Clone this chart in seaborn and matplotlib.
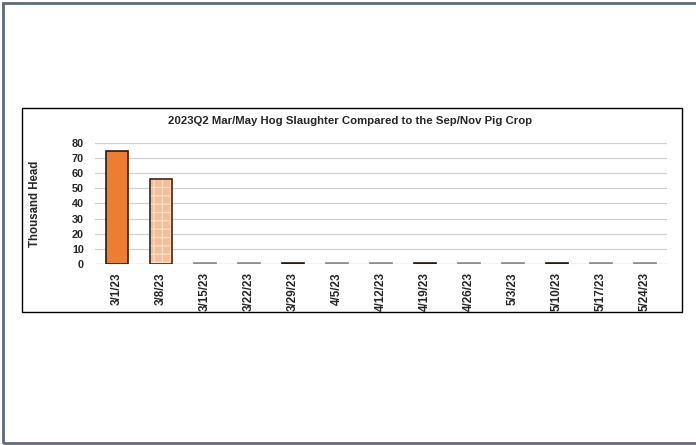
import pandas as pd
import seaborn as sns
import matplotlib.pyplot as plt
from matplotlib.patches import Rectangle

# weekly slaughter, thousand head
weeks = ['3/1/23', '3/8/23', '3/15/23', '3/22/23', '3/29/23', '4/5/23', '4/12/23',
         '4/19/23', '4/26/23', '5/3/23', '5/10/23', '5/17/23', '5/24/23']
head = [75, 56, 0.8, 0.8, 0.9, 0.5, 0.8, 0.9, 0.8, 0.8, 0.9, 0.8, 0.8]
bar_colors = ['#ED7D31', '#F6BE96', '#8C8C8C', '#8C8C8C', '#F6BE96', '#8C8C8C', '#8C8C8C',
              '#F6BE96', '#8C8C8C', '#8C8C8C', '#F6BE96', '#8C8C8C', '#8C8C8C']
edge_colors = ['#2B1A10', '#3A2A20', '#8C8C8C', '#8C8C8C', '#2B1A10', '#8C8C8C', '#8C8C8C',
               '#2B1A10', '#8C8C8C', '#8C8C8C', '#2B1A10', '#8C8C8C', '#8C8C8C']

df = pd.DataFrame({'week': weeks, 'head': head})

sns.set_style('white')
plt.rcParams['font.family'] = ['Liberation Sans', 'DejaVu Sans']
plt.rcParams['font.weight'] = 'bold'
plt.rcParams['hatch.linewidth'] = 1.0

fig = plt.figure(figsize=(6.96, 4.45), dpi=100)
ax = fig.add_axes([0.1365, 0.4067, 0.8215, 0.272])

sns.barplot(data=df, x='week', y='head', hue='week', palette=bar_colors, saturation=1,
            legend=False, width=0.5, ax=ax, linewidth=1.2)

for patch, ec in zip(ax.patches, edge_colors):
    patch.set_edgecolor(ec)

# checkered fill on the second bar: light hatch, then a dark outline on top
p = ax.patches[1]
p.set_hatch('++')
p.set_edgecolor('#FBDCC6')
ax.add_patch(Rectangle(p.get_xy(), p.get_width(), p.get_height(), fill=False,
                       edgecolor='#3A2A20', linewidth=1.2, zorder=p.get_zorder() + 0.1))

ax.set_ylim(0, 80)
ax.set_yticks(range(0, 81, 10))
ax.yaxis.grid(True, color='#D0D0D0', linewidth=0.9)
ax.set_axisbelow(True)
for s in ax.spines.values():
    s.set_visible(False)
ax.axhline(0, color='#D0D0D0', linewidth=0.9, zorder=0)
ax.tick_params(axis='y', length=0, labelsize=7.8, pad=8)
ax.tick_params(axis='x', length=0, labelsize=8.4, pad=6)
for lbl in ax.get_yticklabels():
    lbl.set_fontweight('bold')
for lbl in ax.get_xticklabels():
    lbl.set_fontweight('bold')
    lbl.set_rotation(90)
ax.set_xlabel('')
ax.set_ylabel('Thousand Head', fontsize=8.3, fontweight='bold', labelpad=22)

fig.text(0.503, 0.728, '2023Q2 Mar/May Hog Slaughter Compared to the Sep/Nov Pig Crop',
         ha='center', va='center', fontsize=8.2, fontweight='bold')

# chart box and outer page frame
fig.add_artist(Rectangle((22 / 696, 1 - 312 / 445), 660 / 696, 204 / 445,
                         transform=fig.transFigure, fill=False, edgecolor='black', linewidth=1))
fig.add_artist(Rectangle((3 / 696, 2 / 445), 700 / 696, 440 / 445,
                         transform=fig.transFigure, fill=False, edgecolor='#5D6B78', linewidth=2))

fig.savefig('out.png', dpi=100)
